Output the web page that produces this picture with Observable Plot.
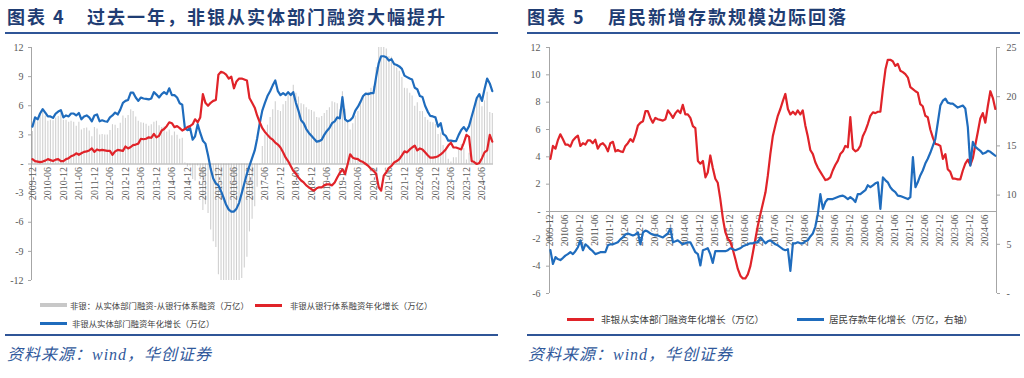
<!DOCTYPE html>
<html><head><meta charset="utf-8">
<script src="https://cdn.jsdelivr.net/npm/d3@7"></script>
<script src="https://cdn.jsdelivr.net/npm/@observablehq/plot@0.6"></script>
<style>
html,body{margin:0;padding:0;background:#fff;}
#root{position:relative;width:1024px;height:378px;overflow:hidden;background:#fff;font-family:"Noto Sans CJK SC",sans-serif;}
.t{position:absolute;top:6px;font-size:18px;line-height:20px;font-weight:700;color:#1f3d73;letter-spacing:2px;white-space:nowrap;}
.rule{position:absolute;height:2px;background:#2f5597;}
.src{position:absolute;top:345px;font-size:16px;line-height:20px;font-style:italic;color:#31599b;white-space:nowrap;font-family:"Liberation Serif","Noto Sans CJK SC",serif;letter-spacing:1px;}
.lg{position:absolute;white-space:nowrap;color:#404040;}
.sw{position:absolute;}
svg{position:absolute;top:0;}
</style>
</head><body>
<div id="root"></div>
<script>
// ---- categories ----
const firstMonth = "2009-12";
const lastMonth = "2024-10";
const tickLabels = ["2009-12","2010-06","2010-12","2011-06","2011-12","2012-06","2012-12","2013-06","2013-12","2014-06","2014-12","2015-06","2015-12","2016-06","2016-12","2017-06","2017-12","2018-06","2018-12","2019-06","2019-12","2020-06","2020-12","2021-06","2021-12","2022-06","2022-12","2023-06","2023-12","2024-06"];
const yTicksLeft = [-12,-9,-6,-3,0,3,6,9,12];
const yTicksRightL = [-6,-4,-2,0,2,4,6,8,10,12];
const yTicksRightR = [0,5,10,15,20,25];

// ---- series (万亿), monthly from 2009-12 ----
// 非银从实体部门融资年化增长
const realGrowth = [
 3.85,
 4.8,4.6,5.2,5.65,5.3,4.9,4.9,4.75,5.2,5.4,5.55,4.8,
 5.0,4.9,5.2,5.2,5.0,5.25,4.6,4.9,5.0,4.8,4.4,5.0,
 5.1,4.4,4.5,4.4,4.35,4.8,5.0,5.3,5.1,5.6,6.3,6.5,
 6.6,7.35,7.35,6.85,6.5,6.85,6.75,6.7,6.65,6.75,7.4,7.15,
 6.85,7.2,7.4,7.2,7.8,7.1,7.1,6.85,6.25,6.1,3.7,3.5,
 3.7,2.5,2.85,4.1,3.2,2.4,2.1,0.9,-0.5,-1.5,-2.0,-2.2,
 -2.8,-3.5,-4.2,-4.7,-4.9,-4.9,-4.6,-4.0,-3.0,-2.0,-1.0,-0.2,
 0.6,1.4,2.6,4.2,5.5,6.3,7.0,7.5,8.1,8.6,7.5,7.1,
 7.3,7.1,7.4,7.1,7.4,6.3,5.5,4.5,4.2,3.6,3.2,2.9,
 2.6,2.3,2.35,2.5,3.0,3.4,3.7,4.2,4.4,4.8,4.7,6.9,
 4.6,4.4,4.5,4.8,5.5,5.9,6.4,7.0,7.25,7.2,7.3,7.3,
 8.95,10.4,11.1,11.1,11.0,10.65,10.8,10.3,10.2,10.05,9.8,9.1,
 8.95,8.8,8.7,7.85,7.7,7.0,6.9,6.0,5.4,4.95,4.9,4.8,
 3.85,4.2,3.1,2.9,2.4,2.4,2.35,2.35,3.0,3.5,3.8,3.4,
 3.9,4.9,5.8,6.8,7.2,6.5,7.7,8.8,8.3,7.5
];
// 非银从银行体系融资年化增长
const bankGrowth = [
 0.5,
 0.3,0.25,0.2,0.25,0.35,0.5,0.4,0.3,0.45,0.5,0.3,0.3,
 0.5,0.6,0.8,0.9,1.1,0.95,1.1,1.25,1.3,1.4,1.6,1.25,
 1.5,1.4,1.45,1.4,1.35,1.35,0.95,1.3,1.45,1.4,1.35,1.8,
 1.6,1.75,1.95,2.0,2.1,2.6,2.55,2.6,2.75,2.7,3.1,2.75,
 2.9,3.45,3.6,3.9,4.3,4.2,3.8,3.9,3.7,3.45,3.6,3.8,
 3.9,4.1,4.6,4.3,4.8,7.2,6.3,6.0,6.3,6.5,6.6,9.2,
 9.5,9.4,9.2,8.8,9.0,7.8,8.5,8.8,8.8,8.7,8.6,6.8,
 6.3,5.8,5.0,4.3,3.7,3.3,3.0,2.7,2.5,2.2,2.0,1.7,
 1.2,0.65,0.3,-0.2,-0.7,-1.0,-1.4,-1.7,-1.9,-2.2,-2.4,-2.6,
 -2.75,-2.5,-2.4,-2.4,-2.2,-2.1,-2.1,-2.2,-1.9,-1.4,-0.9,-0.55,
 -1.05,0.0,1.0,0.65,0.55,0.5,0.3,0.2,0.0,-0.2,-0.5,-0.7,
 -1.0,-2.4,-2.75,-1.2,-0.85,-0.4,-0.2,0.15,0.3,0.5,0.9,1.3,
 1.2,1.5,1.7,1.9,1.4,1.6,1.5,1.2,0.9,0.65,0.65,0.7,
 0.8,1.0,1.2,1.5,1.9,2.2,1.7,1.7,1.6,1.5,2.2,3.0,
 2.8,0.3,0.2,0.0,0.1,0.6,1.2,1.4,3.0,2.3
];
// 非银：从实体部门融资-从银行体系融资 (bars, shown within ±12)
const gapBars = [
 3.35,
 4.5,4.35,5.0,5.4,4.95,4.4,4.5,4.45,4.75,4.9,5.25,4.5,
 4.5,4.3,4.4,4.3,3.9,4.3,3.5,3.65,3.7,3.4,2.8,3.75,
 3.6,3.0,3.05,3.0,3.0,3.45,4.05,4.0,3.65,4.2,4.95,4.7,
 5.0,5.6,5.4,4.85,4.4,4.25,4.2,4.1,3.9,4.05,4.3,4.4,
 3.95,3.75,3.8,3.3,3.5,2.9,3.3,2.95,2.55,2.65,0.1,-0.3,
 -0.2,-1.6,-1.75,-0.2,-1.6,-4.8,-4.2,-5.1,-6.8,-8.0,-8.6,-11.4,
 -12,-12,-12,-12,-12,-12,-12,-12,-11.8,-10.7,-9.6,-7.0,
 -5.7,-4.4,-2.4,-0.1,1.8,3.0,4.0,4.8,5.6,6.4,5.5,5.4,
 6.1,6.45,7.1,7.3,8.1,7.3,6.9,6.2,6.1,5.8,5.6,5.5,
 5.35,4.8,4.75,4.9,5.2,5.5,5.8,6.4,6.3,6.2,5.6,7.45,
 5.65,4.4,3.5,4.15,4.95,5.4,6.1,6.8,7.25,7.4,7.8,8.0,
 9.95,12,12,12,11.85,11.05,11.0,10.15,9.9,9.55,8.9,7.8,
 7.75,7.3,7.0,5.95,6.3,5.4,5.4,4.8,4.5,4.3,4.25,4.1,
 3.05,3.2,1.9,1.4,0.5,0.2,0.65,0.65,1.4,2.0,1.6,0.4,
 1.1,4.6,5.6,6.8,7.1,5.9,6.5,7.4,5.3,5.2
];
// 居民存款年化增长 (万亿, 右轴)
const depositGrowth = [
 4.4,
 3.0,3.7,3.5,3.4,3.6,3.85,4.0,4.2,4.0,4.3,4.7,5.4,
 4.4,5.0,4.8,4.5,4.3,4.0,4.1,4.2,4.2,4.2,4.9,5.0,
 5.0,5.1,5.2,5.5,5.7,6.0,6.1,6.0,5.9,6.0,6.2,5.0,
 6.2,6.4,6.3,6.1,6.0,5.9,5.9,5.8,5.7,5.9,6.1,6.6,
 5.2,5.3,5.4,5.2,5.0,5.1,5.2,5.2,4.7,4.2,4.0,2.85,
 4.4,4.5,4.6,4.0,3.1,4.3,4.3,4.3,4.3,4.3,4.4,4.6,
 4.5,4.4,4.5,4.6,4.8,4.9,5.0,5.1,5.1,5.2,5.2,5.7,
 5.4,5.1,5.3,5.4,5.2,5.0,4.9,4.7,4.5,4.4,4.5,2.3,
 5.1,5.1,5.2,5.1,5.1,5.3,5.4,5.8,6.1,6.8,8.1,10.1,
 8.6,9.3,9.6,9.6,9.6,9.7,9.8,9.9,9.95,9.8,9.6,9.8,
 9.6,9.3,10.1,10.1,10.3,10.5,11.0,10.8,11.0,11.2,11.3,8.6,
 11.8,11.5,11.3,10.8,10.5,10.3,9.95,9.9,9.8,9.7,9.6,9.8,
 13.85,10.8,11.3,12.0,12.5,13.2,13.7,14.3,15.0,15.7,17.4,19.1,
 19.6,19.8,19.4,19.3,19.3,19.1,18.9,19.0,19.1,18.8,16.9,13.0,
 15.4,14.9,14.7,14.5,14.2,14.3,14.5,14.4,14.2,14.0
];

// ---- build ----
const parseYM = s => new Date(Date.UTC(+s.slice(0,4), +s.slice(5,7)-1, 1));
const months = d3.utcMonth.range(parseYM(firstMonth), d3.utcMonth.offset(parseYM(lastMonth), 1));
const xDomain = [d3.utcDay.offset(parseYM(firstMonth), -11), d3.utcDay.offset(parseYM(lastMonth), 14)];
const ticks = tickLabels.map(s => ({date: parseYM(s), label: s}));
const rows = months.map((d, i) => ({date: d, real: realGrowth[i], bank: bankGrowth[i], gap: gapBars[i], dep: depositGrowth[i]}));

const RED = "#e02329", BLUE = "#1f6cbd", AX = "#a6a6a6";
const fmt0 = d => d === 0 ? "-" : String(d);
const baseStyle = {fontFamily: "'Liberation Serif', 'Times New Roman', serif", fontSize: "10px", color: "#595959", background: "transparent", overflow: "visible"};

const root = document.getElementById("root");

// Left chart
const left = Plot.plot({
  width: 512, height: 300,
  marginLeft: 31, marginRight: 19, marginTop: 47, marginBottom: 20,
  x: {type: "utc", domain: xDomain, axis: null},
  y: {domain: [-12, 12], axis: null},
  style: baseStyle,
  marks: [
    Plot.ruleX(rows, {x: "date", y1: 0, y2: "gap", stroke: "#d0d0d0", strokeWidth: 1.1}),
    Plot.ruleY([0], {stroke: AX}),
    Plot.ruleX([xDomain[0]], {stroke: AX}),
    Plot.axisY({ticks: yTicksLeft, label: null, tickSize: 3, tickPadding: 5, stroke: AX, fill: "#595959", tickFormat: fmt0}),
    Plot.text(ticks, {x: "date", y: 0, text: "label", rotate: -90, textAnchor: "end", dy: 3, fill: "#595959", fontSize: 10}),
    Plot.line(rows, {x: "date", y: "real", stroke: BLUE, strokeWidth: 2.2}),
    Plot.line(rows, {x: "date", y: "bank", stroke: RED, strokeWidth: 2.2})
  ]
});
left.style.left = "0px";
root.appendChild(left);

// Right chart (left axis)
const right = Plot.plot({
  width: 512, height: 300,
  marginLeft: 37, marginRight: 28, marginTop: 47, marginBottom: 7,
  x: {type: "utc", domain: xDomain, axis: null},
  y: {domain: [-6, 12], axis: null},
  style: baseStyle,
  marks: [
    Plot.ruleY([0], {stroke: AX}),
    Plot.ruleX([xDomain[0]], {stroke: AX}),
    Plot.ruleX([xDomain[1]], {stroke: AX}),
    Plot.axisY({ticks: yTicksRightL, label: null, tickSize: 3, tickPadding: 6, stroke: AX, fill: "#595959", tickFormat: fmt0}),
    Plot.text(ticks, {x: "date", y: 0, text: "label", rotate: -90, textAnchor: "end", dy: 3, fill: "#595959", fontSize: 9.5}),
    Plot.line(rows, {x: "date", y: "real", stroke: RED, strokeWidth: 2.2})
  ]
});
right.style.left = "512px";
root.appendChild(right);

// Right chart (right axis overlay)
const right2 = Plot.plot({
  width: 512, height: 300,
  marginLeft: 37, marginRight: 28, marginTop: 47, marginBottom: 7,
  x: {type: "utc", domain: xDomain, axis: null},
  y: {domain: [0, 25], axis: null},
  style: baseStyle,
  marks: [
    Plot.axisY({anchor: "right", label: null, ticks: yTicksRightR, tickSize: 3, tickPadding: 7, stroke: AX, fill: "#595959", tickFormat: fmt0}),
    Plot.line(rows, {x: "date", y: "dep", stroke: BLUE, strokeWidth: 2.2})
  ]
});
right2.style.left = "512px";
root.appendChild(right2);

// ---- HTML text: titles, rules, legends, sources ----
function add(html, cls, css) {
  const el = document.createElement("div");
  el.className = cls; el.innerHTML = html; Object.assign(el.style, css);
  root.appendChild(el); return el;
}
add("图表 4", "t", {left: "7px"});
add("过去一年，非银从实体部门融资大幅提升", "t", {left: "87px"});
add("图表 5", "t", {left: "527px"});
add("居民新增存款规模边际回落", "t", {left: "608px"});
add("", "rule", {left: "5px", width: "493px", top: "32px"});
add("", "rule", {left: "527px", width: "493px", top: "32px"});
add("", "rule", {left: "5px", width: "493px", top: "334px"});
add("", "rule", {left: "527px", width: "493px", top: "334px"});
add("资料来源：wind，华创证券", "src", {left: "7px"});
add("资料来源：wind，华创证券", "src", {left: "528px"});

// legends
const legendLeft = [
  {label: "非银：从实体部门融资-从银行体系融资（万亿）", color: "#c8c8c8", h: 4, x: 40, tx: 70, y: 305},
  {label: "非银从银行体系融资年化增长（万亿）", color: RED, h: 3, x: 255, tx: 290, y: 305},
  {label: "非银从实体部门融资年化增长（万亿）", color: BLUE, h: 3, x: 40, tx: 72, y: 323}
];
const legendRight = [
  {label: "非银从实体部门融资年化增长（万亿）", color: RED, h: 3, x: 567, tx: 601, y: 319},
  {label: "居民存款年化增长（万亿，右轴）", color: BLUE, h: 3, x: 797, tx: 829, y: 319}
];
for (const [items, fs] of [[legendLeft, 8.4], [legendRight, 9.6]]) {
  for (const it of items) {
    add("", "sw", {left: it.x + "px", top: (it.y - it.h / 2) + "px", width: "27px", height: it.h + "px", background: it.color});
    add(it.label, "lg", {left: it.tx + "px", top: (it.y - 7) + "px", fontSize: fs + "px", lineHeight: "14px"});
  }
}
</script>
</body></html>
